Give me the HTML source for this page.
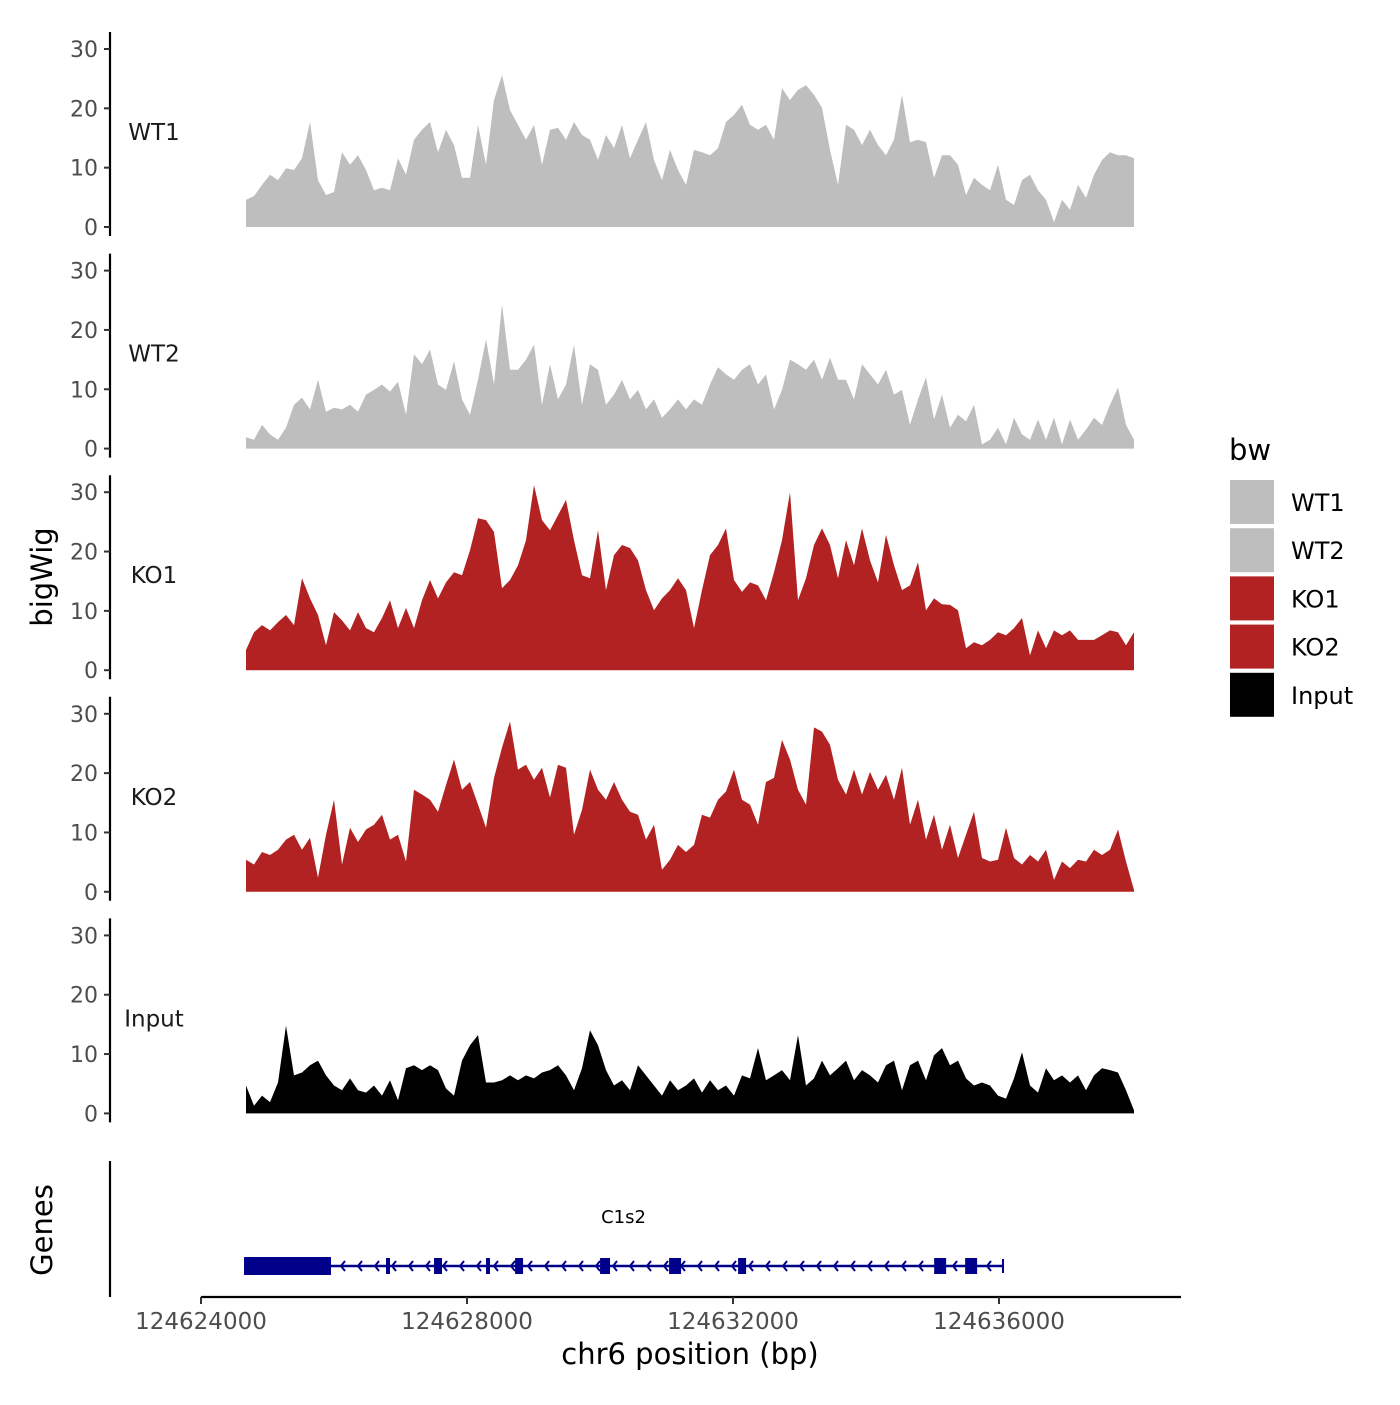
<!DOCTYPE html>
<html><head><meta charset="utf-8"><style>
body{margin:0;background:#fff}
svg text{font-family:"DejaVu Sans","Liberation Sans",sans-serif}
</style></head><body>
<svg id="chart" width="1400" height="1400" viewBox="0 0 1400 1400" xmlns="http://www.w3.org/2000/svg">
<rect width="1400" height="1400" fill="#fff"/>
<g id="tracks"></g>
<g id="genes"></g>
<g id="legend"></g>
</svg>
<script>
const bpStart = 124624677, bpEnd = 124638030;
const trackNames = ["WT1","WT2","KO1","KO2","Input"];
const trackColors = ["#bebebe","#bebebe","#b22222","#b22222","#000000"];
const yTicks = [0,10,20,30];
const xTicks = [124624000,124628000,124632000,124636000];
const wt1 = [4.6,5.2,7.1,8.8,7.9,9.9,9.6,11.6,17.7,7.9,5.4,5.9,12.6,10.5,12.1,9.6,6.2,6.6,6.2,11.6,8.8,14.7,16.4,17.7,12.6,16.4,13.8,8.3,8.3,17.2,10.5,21.4,25.6,19.7,17.2,14.7,17.2,10.5,16.4,16.7,14.7,17.7,15.5,14.7,11.3,15.5,13.3,17.2,11.6,14.7,17.7,11.3,7.9,13,9.6,7.1,13,12.6,12.1,13.3,17.7,18.9,20.6,17.2,16.4,17.2,14.7,23.4,21.4,23.1,23.9,22.3,20.1,13,7.1,17.2,16.4,13.8,16.4,13.8,12.1,14.7,22.3,14.3,14.7,14.3,8.3,12.1,12.1,10.5,5.4,8.3,7.1,6.2,10.5,4.6,3.7,7.9,8.8,6.2,4.6,0.8,4.6,2.9,7.1,4.9,8.8,11.3,12.6,12.1,12.1,11.6];
const wt2 = [1.9,1.5,4,2.4,1.5,3.5,7.4,8.6,6.6,11.6,6.2,6.9,6.6,7.4,6.2,9.1,9.9,10.8,9.6,11.3,5.7,15.9,14.2,16.7,10.8,9.9,14.7,8.3,5.7,11.6,18.4,10.8,24.3,13.3,13.3,15,17.5,7.4,14.2,8.3,10.8,17.5,7.4,14.2,13.3,7.4,9.1,11.6,8.3,9.9,6.6,8.3,5.2,6.6,8.3,6.6,8.3,7.4,10.8,13.7,12.5,11.6,13.3,14.2,10.8,12.5,6.6,9.9,15,14.2,13.3,15,11.6,15.3,11.6,11.6,8.3,14.2,12.5,10.8,13.3,9.1,9.9,4,8.3,12,4.9,9.1,3.5,5.7,4.6,7.4,0.7,1.5,3.5,0.7,5.2,2.4,1.5,4.9,1.5,5.2,0.7,4.9,1.5,3.2,5.2,4,7.4,10.3,4,1.5];
const ko1 = [3.4,6.4,7.6,6.7,8.1,9.3,7.6,15.5,12.1,9.3,4.2,9.8,8.4,6.7,9.8,7.1,6.4,8.8,11.8,7.1,10.5,7.1,11.8,15.2,12.1,14.8,16.5,16,20.2,25.6,25.3,23.3,13.8,15.2,17.7,21.9,31.2,25.3,23.6,26.1,28.7,21.9,16,15.5,23.6,13.5,19.4,21.1,20.6,18.5,13.5,10.1,12.1,13.5,15.5,13.5,7.1,13.5,19.4,21.1,23.9,15.2,13.2,14.8,14.3,11.8,16.5,21.9,30,11.8,15.5,21.1,23.9,21.1,15.5,21.9,17.7,23.9,18.5,14.8,22.8,17.7,13.5,14.3,18.2,10.1,12.1,11.1,11,10.1,3.7,4.7,4.2,5.1,6.4,5.9,7.1,8.8,2.5,6.7,3.7,6.7,5.9,6.7,5.1,5.1,5.1,5.9,6.7,6.4,4.2,6.4];
const ko2 = [5.4,4.6,6.7,6.2,7.1,8.8,9.6,7.1,9.1,2.4,9.6,15.5,4.6,10.8,8.4,10.5,11.3,13,8.8,9.6,5.1,17.2,16.4,15.5,13.5,18,22.3,17.2,18.5,14.7,10.8,19.2,24.3,28.7,20.6,21.4,18.9,20.9,15.9,21.4,20.9,9.6,13.8,20.6,17.2,15.5,18.5,15.5,13.5,13,8.8,11.3,3.7,5.4,7.9,6.7,7.9,13,12.5,15.5,16.9,20.6,15.5,14.7,11.3,18.5,19.2,25.6,22.3,17.2,14.7,27.7,27,24.8,18.9,16.4,20.6,16.4,20.2,17.2,19.7,15.5,20.9,11.3,15.5,8.8,13,7.1,11.3,5.7,9.6,13.5,5.7,5.1,5.4,10.8,5.7,4.6,6.2,5.1,7.1,2,5.1,4,5.4,5.1,7.1,6.2,7.1,10.5,5.1,0.3];
const inputSig = [4.7,1.3,3,1.9,5.2,14.8,6.4,6.9,8.1,8.9,6.4,4.7,3.9,5.9,3.9,3.5,4.7,3,5.6,2.2,7.6,8.1,7.3,8.1,7.3,4.2,3,8.9,11.5,13.2,5.2,5.2,5.6,6.4,5.6,6.4,5.9,6.9,7.3,8.1,6.4,3.9,7.6,14,11.5,7.3,4.7,5.6,3.9,8.1,6.4,4.7,3,5.6,3.9,4.7,5.9,3.5,5.6,3.9,4.7,3,6.4,5.9,11,5.6,6.4,7.3,5.6,13.2,4.7,5.9,8.9,6.4,7.6,8.9,5.6,7.3,6.4,5.2,8.1,8.9,3.9,8.1,8.9,5.6,9.8,11,8.1,8.9,5.9,4.7,5.2,4.7,3,2.5,5.9,10.3,4.7,3.5,7.6,5.6,6.4,5.2,6.4,3.9,6.4,7.6,7.3,6.9,3.9,0.5];
const series = [wt1, wt2, ko1, ko2, inputSig];
const geneName = "C1s2";
const geneStart = 124624647, geneEnd = 124636060;
const utrBlock = [124624647, 124625955];
const exonCenters = [124626812,124627564,124628316,124628783,124630076,124631129,124632137,124635115,124635581];
const exonWidths = [60,120,60,120,150,180,120,180,180];

const NS = "http://www.w3.org/2000/svg";
function mk(tag, attrs, parent){const e=document.createElementNS(NS,tag);for(const k in attrs)e.setAttribute(k,attrs[k]);parent.appendChild(e);return e;}
const xScale = bp => 201 + (bp - 124624000) * 266 / 4000;
const panelTop0 = 227, panelStep = 221.6;
const yScale = (v, p) => panelTop0 + p*panelStep - v * 178/30;

const tracks = document.getElementById('tracks');
series.forEach((vals, p) => {
  const g = mk('g', {}, tracks);
  
  
  const n = vals.length;
  const base = yScale(0, p);
  let d = 'M' + xScale(bpStart) + ',' + base;
  vals.forEach((v, i) => { const bp = bpStart + i*(bpEnd-bpStart)/(n-1); d += ' L' + xScale(bp).toFixed(1) + ',' + yScale(v, p).toFixed(1); });
  d += ' L' + xScale(bpEnd) + ',' + base + ' Z';
  const area = mk('path', {d: d, fill: trackColors[p]}, g);
  
  
  const ax = mk('line', {x1:110, x2:110, y1: yScale(30,p)-17, y2: base+9, stroke:'#000', 'stroke-width':2.2}, g);
  
  
  yTicks.forEach(t => {
    const y = yScale(t, p);
    mk('line', {x1:104, x2:110, y1:y, y2:y, stroke:'#333', 'stroke-width':2}, g);
    const tx = mk('text', {x:98, y:y+8, 'text-anchor':'end', 'font-size':22, fill:'#4d4d4d'}, g);
    tx.textContent = t;
    
    
  });
  const lab = mk('text', {x:154, y: yScale(15,p)+2, 'text-anchor':'middle', 'font-size':23, fill:'#1a1a1a'}, g);
  lab.textContent = trackNames[p];
  
  
});
const yt = mk('text', {x:0, y:0, 'font-size':29, 'text-anchor':'middle', transform:'translate(52,577) rotate(-90)'}, tracks);
yt.textContent = 'bigWig';



const gg = document.getElementById('genes');
const gy = 1266;
mk('line', {x1:110, x2:110, y1:1161, y2:1297, stroke:'#000', 'stroke-width':2.2}, gg);
const gt = mk('text', {x:0, y:0, 'font-size':29, 'text-anchor':'middle', transform:'translate(52,1230) rotate(-90)'}, gg);
gt.textContent = 'Genes';


const gl = mk('line', {x1:xScale(geneStart), x2:xScale(geneEnd), y1:gy, y2:gy, stroke:'#00008b', 'stroke-width':2.5}, gg);


for (let x = xScale(utrBlock[1]) + 10; x < xScale(geneEnd) - 4; x += 17) {
  mk('polyline', {points: (x+4)+','+(gy-5)+' '+x+','+gy+' '+(x+4)+','+(gy+5), fill:'none', stroke:'#00008b', 'stroke-width':2}, gg);
}
const ub = mk('rect', {x:xScale(utrBlock[0]), y:gy-9, width:xScale(utrBlock[1])-xScale(utrBlock[0]), height:18, fill:'#00008b'}, gg);


exonCenters.forEach((c, i) => {
  const w = xScale(c + exonWidths[i]/2) - xScale(c - exonWidths[i]/2);
  const r = mk('rect', {x:xScale(c)-w/2, y:gy-8, width:w, height:16, fill:'#00008b'}, gg);
  
  
});
mk('line', {x1:xScale(geneEnd), x2:xScale(geneEnd), y1:gy-7, y2:gy+7, stroke:'#00008b', 'stroke-width':2}, gg);
const gn = mk('text', {x:xScale((geneStart+geneEnd)/2), y:1223, 'text-anchor':'middle', 'font-size':18, fill:'#000'}, gg);
gn.textContent = geneName;


const xa = mk('line', {x1:201, x2:1181, y1:1297, y2:1297, stroke:'#000', 'stroke-width':2.2}, gg);


xTicks.forEach(t => {
  const x = xScale(t);
  mk('line', {x1:x, x2:x, y1:1297, y2:1304, stroke:'#333', 'stroke-width':2}, gg);
  const tx = mk('text', {x:x, y:1329, 'text-anchor':'middle', 'font-size':23, fill:'#4d4d4d'}, gg);
  tx.textContent = t;
  
  
});
const xt = mk('text', {x:690, y:1364, 'text-anchor':'middle', 'font-size':29}, gg);
xt.textContent = 'chr6 position (bp)';



const lg = document.getElementById('legend');
const lt = mk('text', {x:1229, y:460, 'font-size':29}, lg);
lt.textContent = 'bw';


trackNames.forEach((n, i) => {
  const y = 480 + i*48.2;
  const k = mk('rect', {x:1230, y:y, width:44, height:44, fill:trackColors[i]}, lg);
  
  
  const t = mk('text', {x:1291, y:y+31, 'font-size':24}, lg);
  t.textContent = n;
  
  
});
</script>
</body></html>
